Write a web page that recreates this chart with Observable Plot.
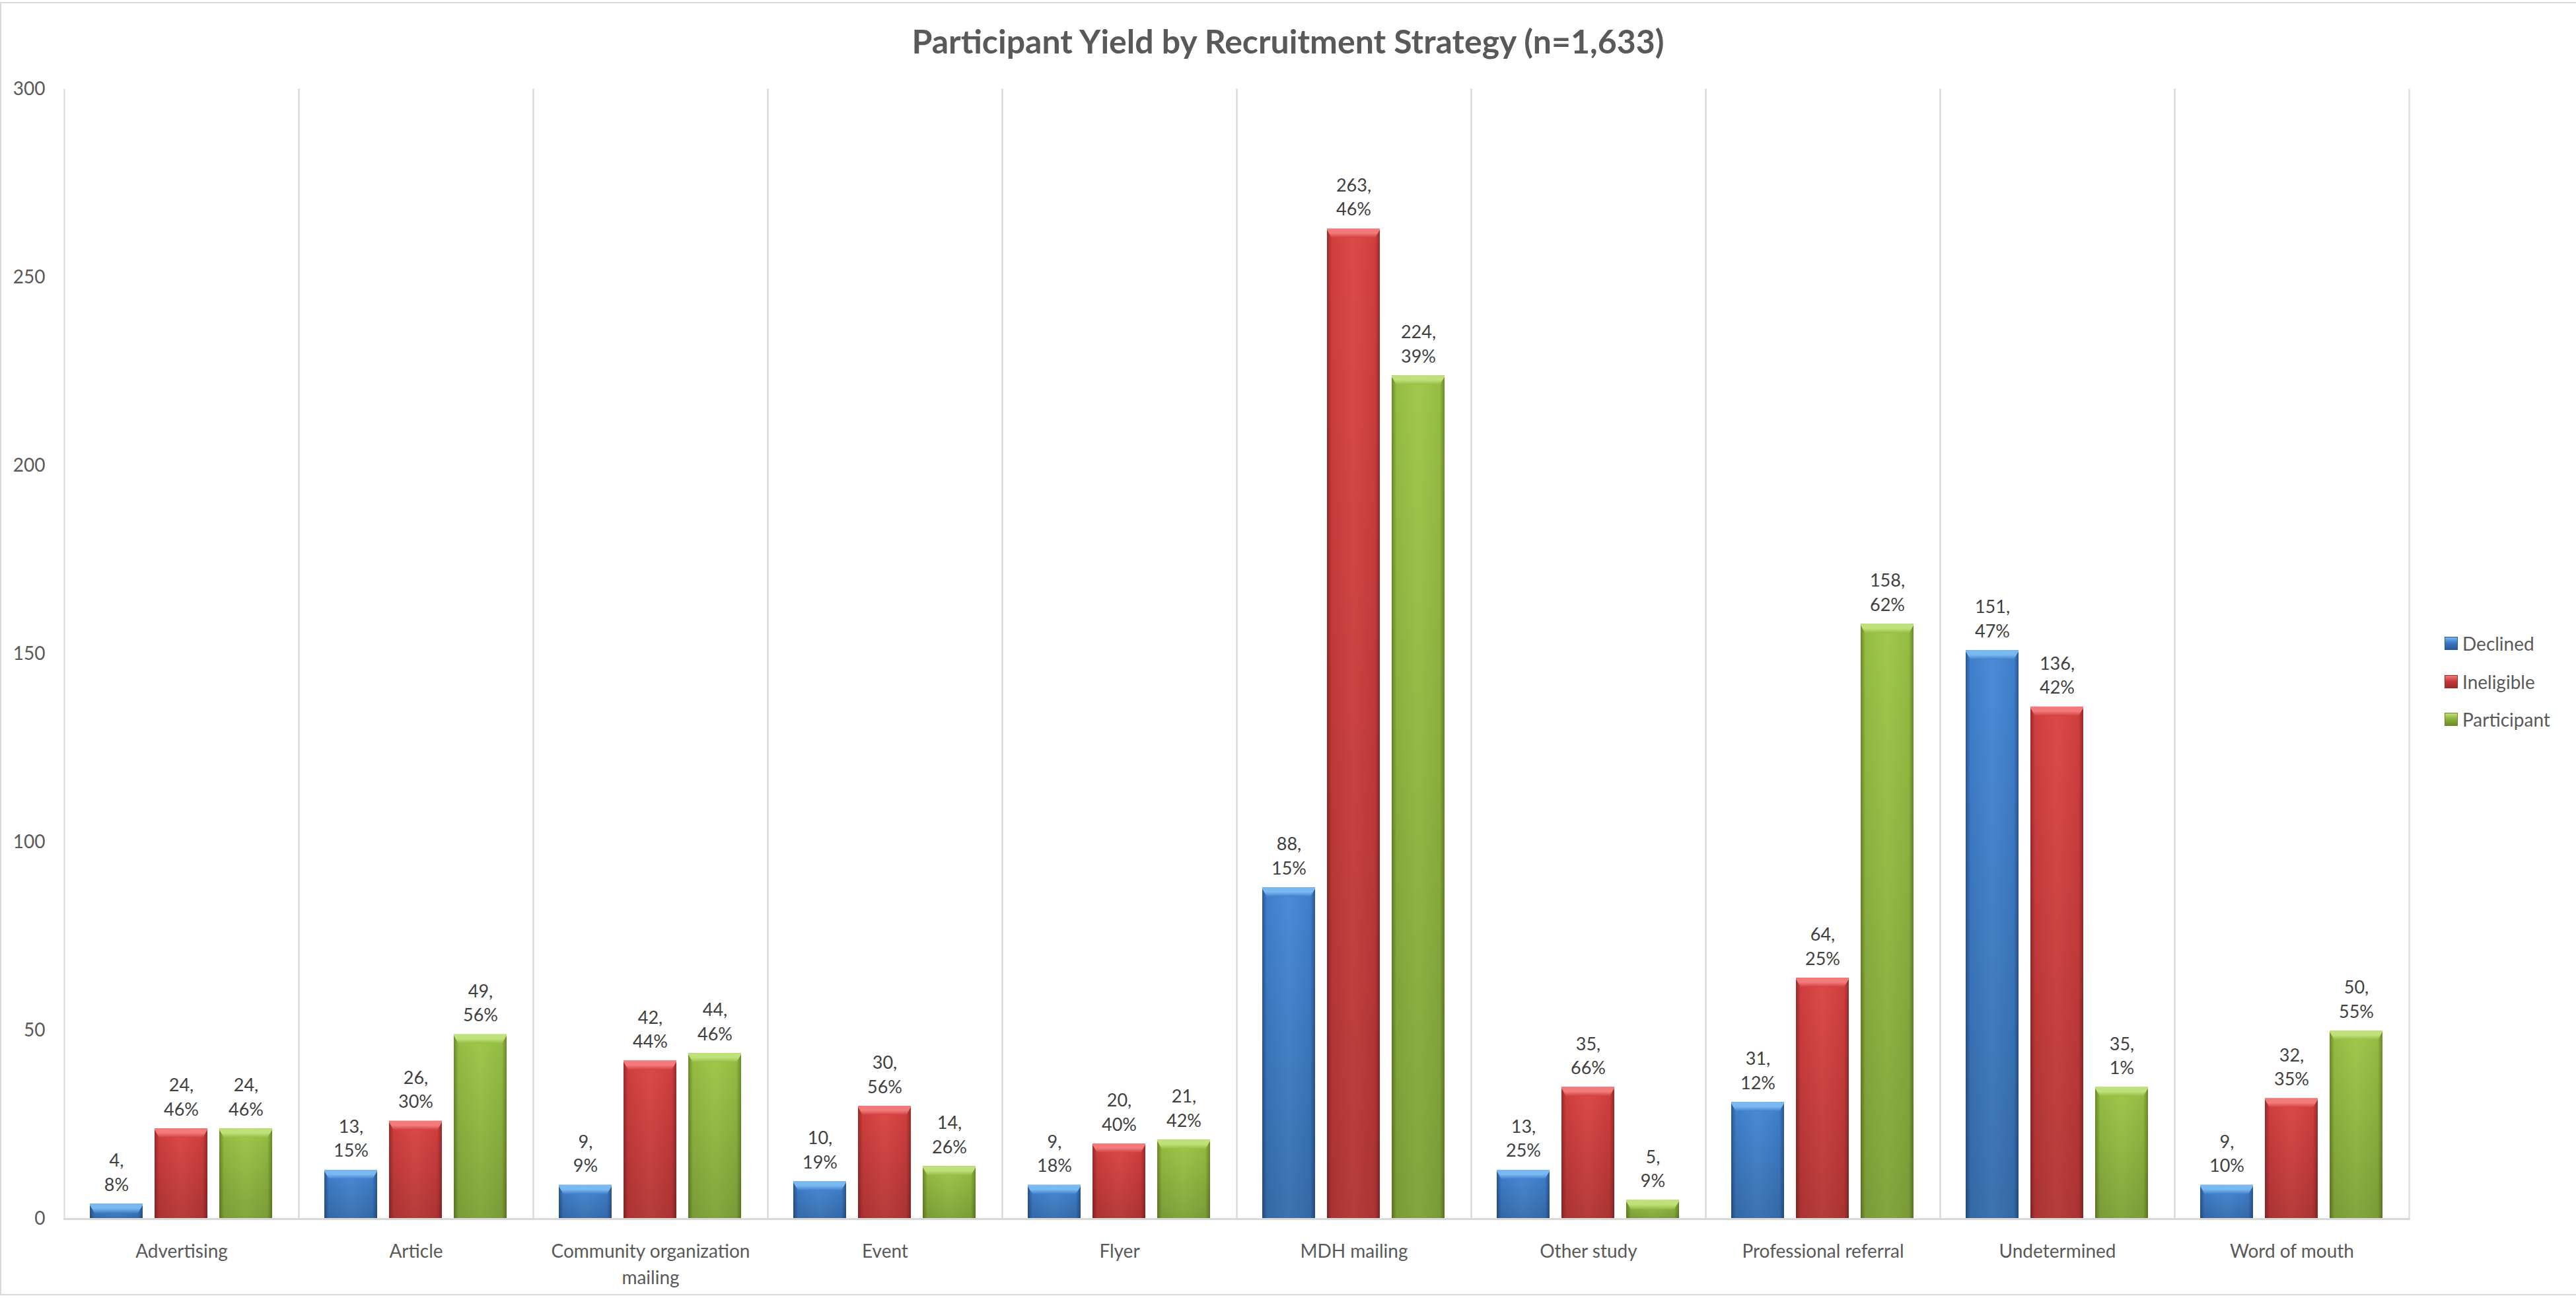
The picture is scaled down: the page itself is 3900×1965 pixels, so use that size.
<!DOCTYPE html>
<html><head><meta charset="utf-8">
<script src="https://cdn.jsdelivr.net/npm/d3@7"></script>
<script src="https://cdn.jsdelivr.net/npm/@observablehq/plot@0.6"></script>
<style>
html,body{margin:0;padding:0;background:#fff;}
#wrap{position:relative;width:3900px;height:1965px;overflow:hidden;font-family:Lato,"Open Sans",sans-serif;}
#border{position:absolute;left:0;top:3px;width:3905px;height:1958px;border:2px solid #d9d9d9;box-sizing:border-box;}
#title{position:absolute;left:0;width:3900px;top:33px;text-align:center;font-weight:bold;font-size:50px;color:#595959;line-height:58px;}
#legend{position:absolute;left:3701px;top:0;font-size:28px;color:#595959;}
.li{position:absolute;left:0;white-space:nowrap;display:flex;align-items:center;}
.sw{width:20px;height:20px;margin-right:7px;box-sizing:border-box;}
svg{position:absolute;left:0;top:0;}
</style></head>
<body><div id="wrap"><div id="border"></div><div id="title">Participant Yield by Recruitment Strategy (n=1,633)</div><div id="legend"></div></div>
<script>
const categories = ["Advertising","Article","Community organization mailing","Event","Flyer","MDH mailing","Other study","Professional referral","Undetermined","Word of mouth"];
const seriesNames = ["Declined","Ineligible","Participant"];
const declined = [4,13,9,10,9,88,13,31,151,9];
const declinedPct = [8,15,9,19,18,15,25,12,47,10];
const ineligible = [24,26,42,30,20,263,35,64,136,32];
const ineligiblePct = [46,30,44,56,40,46,66,25,42,35];
const participant = [24,49,44,14,21,224,5,158,35,50];
const participantPct = [46,56,46,26,42,39,9,62,1,55];
const yTicks = [0,50,100,150,200,250,300];

const seriesValues = [declined, ineligible, participant];
const seriesPcts = [declinedPct, ineligiblePct, participantPct];
const rows = [];
categories.forEach((c, ci) => seriesNames.forEach((s, si) => rows.push({category: c, series: s, value: seriesValues[si][ci], pct: seriesPcts[si][ci]})));

const palettes = [
  {edge:"#2b5794", main:"#3f7fcb", light:"#4b8bd7", cap:"#7ab8f0", sw:"#3a78c4"},
  {edge:"#9a2a2a", main:"#d03e3e", light:"#dc4a48", cap:"#f27a7a", sw:"#c83a3a"},
  {edge:"#6a8a27", main:"#94bd43", light:"#a0c94c", cap:"#c0e07a", sw:"#8db43e"}
];

const chart = Plot.plot({
  width: 3900, height: 1965,
  marginTop: 135, marginBottom: 120, marginLeft: 96, marginRight: 252,
  style: {fontFamily: "Lato, 'Open Sans', sans-serif", fontSize: "28px", color: "#595959", background: "transparent"},
  fx: {domain: categories, padding: 0, label: null},
  x: {domain: seriesNames, paddingInner: 0.18, paddingOuter: 0.4, axis: null},
  y: {domain: [0, 300], label: null},
  marks: [
    Plot.frame({anchor: "left", stroke: "#d9d9d9", strokeWidth: 2}),
    Plot.frame({anchor: "right", stroke: "#d9d9d9", strokeWidth: 2}),
    ...seriesNames.map((s, i) => Plot.barY(rows.filter(r => r.series === s), {fx: "category", x: "series", y: "value", fill: `url(#grad${i})`})),
    Plot.frame({anchor: "bottom", stroke: "#d9d9d9", strokeWidth: 3}),
    Plot.text(rows, {fx: "category", x: "series", y: "value", text: d => `${d.value},\n${d.pct}%`, lineAnchor: "bottom", lineHeight: 1.35, dy: -20, fill: "#404040", fontSize: 27}),
    Plot.axisY({ticks: yTicks, tickSize: 0, tickPadding: 29, label: null, color: "#595959", fontSize: 28}),
    Plot.axisFx({anchor: "bottom", tickSize: 0, tickPadding: 31, label: null, color: "#595959", fontSize: 28, lineHeight: 1.4,
      tickFormat: d => d === "Community organization mailing" ? "Community organization\nmailing" : d})
  ]
});
document.getElementById("wrap").appendChild(chart);

// gradients (bevel style)
const svg = d3.select(chart);
const defs = svg.insert("defs", ":first-child");
palettes.forEach((p, i) => {
  const g = defs.append("linearGradient").attr("id", `grad${i}`).attr("x1", 0).attr("x2", 1).attr("y1", 0).attr("y2", 0);
  [[0, p.edge], [0.09, p.main], [0.5, p.light], [0.91, p.main], [1, p.edge]].forEach(([o, c]) => g.append("stop").attr("offset", o).attr("stop-color", c));
  const cg = defs.append("linearGradient").attr("id", `cap${i}`).attr("x1", 0).attr("x2", 0).attr("y1", 0).attr("y2", 1);
  [[0, p.cap], [0.5, p.cap], [1, p.main]].forEach(([o, c]) => cg.append("stop").attr("offset", o).attr("stop-color", c));
});
const shade = defs.append("linearGradient").attr("id", "shade").attr("x1", 0).attr("x2", 0).attr("y1", 0).attr("y2", 1);
shade.append("stop").attr("offset", 0).attr("stop-color", "#000").attr("stop-opacity", 0);
shade.append("stop").attr("offset", 1).attr("stop-color", "#000").attr("stop-opacity", 0.18);

palettes.forEach((p, i) => {
  chart.querySelectorAll(`g[fill="url(#grad${i})"] rect`).forEach(r => {
    const x = +r.getAttribute("x"), y = +r.getAttribute("y"), w = +r.getAttribute("width"), h = +r.getAttribute("height");
    const parent = r.parentNode;
    const ns = "http://www.w3.org/2000/svg";
    const s = document.createElementNS(ns, "rect");
    s.setAttribute("x", x); s.setAttribute("y", y); s.setAttribute("width", w); s.setAttribute("height", h);
    s.setAttribute("fill", "url(#shade)");
    if (r.getAttribute("transform")) s.setAttribute("transform", r.getAttribute("transform"));
    parent.appendChild(s);
    const capH = Math.min(14, h);
    const c = document.createElementNS(ns, "path");
    const inset = Math.min(7, w / 6);
    c.setAttribute("d", `M${x},${y}H${x + w}V${y + 2}L${x + w - inset},${y + capH}H${x + inset}L${x},${y + 2}Z`);
    c.setAttribute("fill", `url(#cap${i})`);
    if (r.getAttribute("transform")) c.setAttribute("transform", r.getAttribute("transform"));
    parent.appendChild(c);
  });
});

// legend
const legend = document.getElementById("legend");
const legendY = [974, 1032, 1089];
seriesNames.forEach((s, i) => {
  const item = document.createElement("div");
  item.className = "li";
  item.style.top = (legendY[i] - 20) + "px";
  item.style.height = "40px";
  item.innerHTML = `<div class="sw" style="background:linear-gradient(${palettes[i].cap}, ${palettes[i].sw} 45%, ${palettes[i].edge});border:1px solid ${palettes[i].edge}"></div><span>${s}</span>`;
  legend.appendChild(item);
});
</script></body></html>
